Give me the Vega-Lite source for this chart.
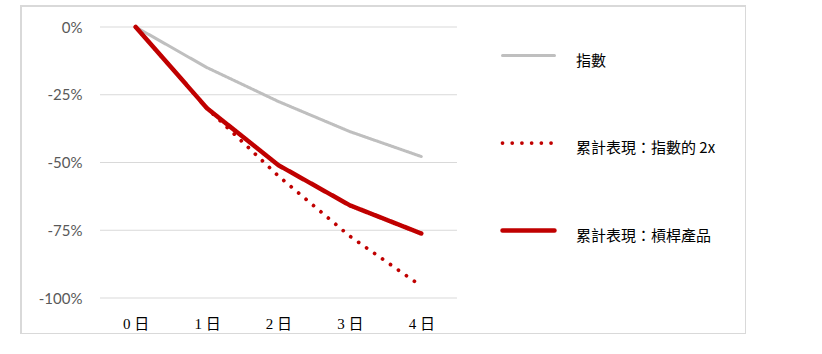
{
  "$schema": "https://vega.github.io/schema/vega-lite/v6.json",
  "autosize": {"type": "none"},
  "padding": {"left": 21, "top": 6, "right": 0, "bottom": 0},
  "width": 725,
  "height": 328,
  "background": "#ffffff",
  "config": {
    "view": {"stroke": "#d9d9d9", "strokeWidth": 2},
    "axis": {"grid": false, "domain": false, "ticks": false}
  },
  "datasets": {
    "series": [
      {"day": 0, "value": 0, "series": "指數"},
      {"day": 1, "value": -0.15, "series": "指數"},
      {"day": 2, "value": -0.275, "series": "指數"},
      {"day": 3, "value": -0.386, "series": "指數"},
      {"day": 4, "value": -0.478, "series": "指數"},
      {"day": 0, "value": 0, "series": "累計表現：指數的 2x"},
      {"day": 1, "value": -0.30, "series": "累計表現：指數的 2x"},
      {"day": 2, "value": -0.55, "series": "累計表現：指數的 2x"},
      {"day": 3, "value": -0.772, "series": "累計表現：指數的 2x"},
      {"day": 4, "value": -0.956, "series": "累計表現：指數的 2x"},
      {"day": 0, "value": 0, "series": "累計表現：槓桿產品"},
      {"day": 1, "value": -0.30, "series": "累計表現：槓桿產品"},
      {"day": 2, "value": -0.51, "series": "累計表現：槓桿產品"},
      {"day": 3, "value": -0.658, "series": "累計表現：槓桿產品"},
      {"day": 4, "value": -0.762, "series": "累計表現：槓桿產品"}
    ],
    "grid": [
      {"tick": 0}, {"tick": -0.25}, {"tick": -0.5}, {"tick": -0.75}, {"tick": -1}
    ]
  },
  "layer": [
    {
      "data": {"name": "grid"},
      "mark": {"type": "rule", "stroke": "#d9d9d9", "strokeWidth": 1},
      "encoding": {
        "y": {"field": "tick", "type": "quantitative",
              "scale": {"domain": [-1.1328, 0.0775], "nice": false, "zero": false},
              "axis": {"values": [0, -0.25, -0.5, -0.75, -1],
                       "labelExpr": "replace(format(datum.value, '.0%'), '\u2212', '-')", "title": null,
                       "offset": -61, "labelPadding": 0, "labelFont": "Lato", "labelFontSize": 15,
                       "labelColor": "#595959"}},
        "x": {"datum": -0.5, "type": "quantitative",
              "scale": {"domain": [-1.6064, 8.548], "nice": false, "zero": false},
              "axis": {"values": [0, 1, 2, 3, 4], "labelExpr": "datum.value + ' 日'", "title": null,
                       "offset": -18, "labelPadding": 0, "labelBaseline": "top",
                       "labelFont": "Liberation Serif, Noto Sans CJK TC", "labelFontSize": 15,
                       "labelColor": "#000000"}},
        "x2": {"datum": 4.5}
      }
    },
    {
      "data": {"name": "series"},
      "mark": {"type": "line", "strokeCap": "round", "strokeJoin": "round"},
      "encoding": {
        "x": {"field": "day", "type": "quantitative"},
        "y": {"field": "value", "type": "quantitative"},
        "color": {"field": "series", "type": "nominal",
                  "scale": {"domain": ["指數", "累計表現：指數的 2x", "累計表現：槓桿產品"],
                            "range": ["#bfbfbf", "#c00000", "#c00000"]},
                  "legend": {"title": null, "orient": "none", "legendX": 479, "legendY": 22,
                             "symbolType": "stroke", "symbolSize": 2704, "symbolStrokeWidth": 4,
                             "rowPadding": 46, "labelOffset": 19, "padding": 0,
                             "labelFont": "Noto Sans CJK TC", "labelFontSize": 15, "labelColor": "#000000",
                             "labelLimit": 300,
                             "encode": {"symbols": {"update": {"strokeCap": {"value": "round"}}},
                                        "labels": {"update": {"dy": {"value": 5}}}}}},
        "strokeDash": {"field": "series", "type": "nominal",
                       "scale": {"domain": ["指數", "累計表現：指數的 2x", "累計表現：槓桿產品"],
                                 "range": [[1, 0], [0.01, 9.7], [1, 0]]},
                       "legend": null},
        "strokeWidth": {"field": "series", "type": "nominal",
                        "scale": {"domain": ["指數", "累計表現：指數的 2x", "累計表現：槓桿產品"],
                                  "range": [3, 4.5, 3.5]},
                        "legend": null},
        "order": {"field": "day"}
      }
    }
  ]
}
